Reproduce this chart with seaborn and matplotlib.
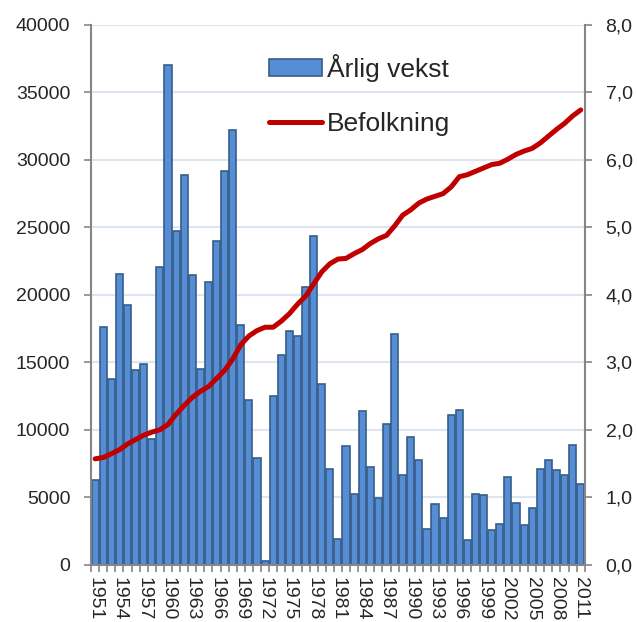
import numpy as np
import pandas as pd
import matplotlib
matplotlib.use('Agg')
import matplotlib.pyplot as plt
from matplotlib.patches import Patch
from matplotlib.lines import Line2D
import seaborn as sns

# Data
years = list(range(1951, 2012))
annual_growth = [
    6270, 17650, 13790, 21510, 19210, 14420, 14840, 9330, 22070, 37040,
    24750, 28860, 21490, 14540, 20940, 23970, 29190, 32200, 17750, 12180,
    7900, 300, 12490, 15570, 17300, 16960, 20570, 24340, 13360, 7070,
    1880, 8800, 5280, 11430, 7260, 4930, 10460, 17080, 6670, 9500,
    7790, 2620, 4470, 3460, 11060, 11480, 1850, 5230, 5140, 2590,
    3010, 6470, 4570, 2960, 4170, 7090, 7780, 7010, 6670, 8860,
    6020,
]
population = [
    1.57, 1.59, 1.645, 1.705, 1.79, 1.855, 1.92, 1.965, 2.0, 2.08,
    2.23, 2.36, 2.48, 2.57, 2.64, 2.76, 2.88, 3.05, 3.26, 3.39,
    3.47, 3.52, 3.52, 3.61, 3.72, 3.86, 3.98, 4.16, 4.34, 4.46,
    4.53, 4.54, 4.61, 4.67, 4.76, 4.83, 4.88, 5.02, 5.18, 5.26,
    5.36, 5.42, 5.46, 5.50, 5.60, 5.75, 5.78, 5.83, 5.88, 5.93,
    5.95, 6.01, 6.08, 6.13, 6.17, 6.25, 6.35, 6.45, 6.54, 6.65,
    6.74,
]
left_ticks = list(range(0, 40001, 5000))
right_ticks = [0, 1, 2, 3, 4, 5, 6, 7, 8]

BAR_COLOR = '#558ED5'
BAR_EDGE = '#385D8A'
LINE_COLOR = '#C00000'
AXIS_GRAY = '#868686'
GRID_COLOR = '#DCE6F2'

sns.set_theme(style='white')
plt.rcParams['font.family'] = ['Liberation Sans', 'DejaVu Sans']

df = pd.DataFrame({
    'year': [str(y) for y in years],
    'vekst': annual_growth,
    'befolkning': population,
})

fig = plt.figure(figsize=(6.37, 6.22), dpi=100)
ax = fig.add_axes([0.143, 0.092, 0.775, 0.868])

sns.barplot(data=df, x='year', y='vekst', color=BAR_COLOR, saturation=1,
            edgecolor=BAR_EDGE, linewidth=1.2, width=0.88, ax=ax)

ax2 = ax.twinx()
sns.lineplot(x=np.arange(len(years)), y=df['befolkning'], color=LINE_COLOR,
             linewidth=3.6, ax=ax2, legend=False)

# left axis
ax.set_xlim(-0.5, len(years) - 0.5)
ax.set_ylim(0, 40000)
ax.set_yticks(left_ticks)
ax.set_yticklabels([str(t) for t in left_ticks], fontsize=14)
ax.yaxis.grid(True, color=GRID_COLOR, linewidth=1.5)
ax.set_axisbelow(True)
ax.set_xlabel('')
ax.set_ylabel('')

# x ticks: labels every third year, tick marks at category boundaries
ax.set_xticks(range(0, len(years), 3))
ax.set_xticklabels([str(y) for y in years[::3]], rotation=-90, fontsize=14)
ax.set_xticks(np.arange(-0.5, len(years), 1), minor=True)
ax.tick_params(axis='x', which='major', length=0, pad=9)
ax.tick_params(axis='x', which='minor', bottom=True, length=5, width=1.2,
               color=AXIS_GRAY, direction='out')
ax.tick_params(axis='y', left=True, length=5, width=1.2, color=AXIS_GRAY,
               direction='out', pad=10)

# right axis
ax2.set_ylim(0, 8)
ax2.set_yticks(right_ticks)
ax2.set_yticklabels([f'{t},0' for t in right_ticks], fontsize=14)
ax2.tick_params(axis='y', right=True, length=5, width=1.2, color=AXIS_GRAY,
                direction='out', pad=10)
ax2.set_ylabel('')

for a in (ax, ax2):
    for side in a.spines:
        a.spines[side].set_visible(False)
ax.spines['left'].set_visible(True)
ax.spines['bottom'].set_visible(True)
ax2.spines['right'].set_visible(True)
for sp in (ax.spines['left'], ax.spines['bottom'], ax2.spines['right']):
    sp.set_color(AXIS_GRAY)
    sp.set_linewidth(1.5)

handles = [
    Patch(facecolor=BAR_COLOR, edgecolor=BAR_EDGE, linewidth=1.2),
    Line2D([0], [0], color=LINE_COLOR, linewidth=3.6, solid_capstyle='round'),
]
ax2.legend(handles, ['Årlig vekst', 'Befolkning'], loc='upper left',
           bbox_to_anchor=(0.402, 0.935), bbox_transform=fig.transFigure,
           frameon=False, fontsize=19, handlelength=2.0, handleheight=0.6,
           handletextpad=0.2, labelspacing=1.15, borderpad=0)

fig.savefig('out.png', dpi=100)
